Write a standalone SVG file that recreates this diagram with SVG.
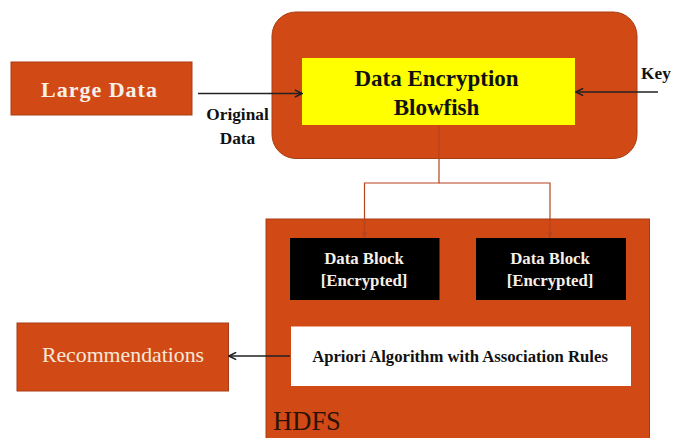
<svg xmlns="http://www.w3.org/2000/svg" width="674" height="438" viewBox="0 0 674 438">
<style>
text{font-family:"Liberation Serif",serif;text-anchor:middle}
.o{fill:#d14a16;stroke:#a83c14;stroke-width:1}
.b{font-weight:bold;fill:#111}
.w{font-weight:bold;fill:#f6f0e8}
.k{fill:#000}
.a{fill:none;stroke:#222;stroke-width:1.6}
.r{fill:none;stroke:#b8421c;stroke-width:1.2}
</style>
<defs>
<marker id="ah" viewBox="0 0 10 10" refX="9" refY="5" markerWidth="9" markerHeight="9" markerUnits="userSpaceOnUse" orient="auto"><path d="M1 1L9 5L1 9" fill="none" stroke="#222" stroke-width="1.8"/></marker>
<marker id="rh" viewBox="0 0 10 10" refX="9" refY="5" markerWidth="7" markerHeight="7" markerUnits="userSpaceOnUse" orient="auto"><path d="M1 1L9 5L1 9Z" fill="#b8421c"/></marker>
</defs>
<rect width="674" height="438" fill="#fff"/>
<g id="large-data"><rect class="o" x="11" y="62" width="181" height="53"/><text class="w" x="99.500" y="97" font-size="22" letter-spacing="1">Large Data</text></g>
<g id="encryption-outer"><rect class="o" x="272" y="12" width="365" height="146.500" rx="24"/></g>
<g id="encryption"><rect x="302" y="58" width="273" height="67" fill="#ff0"/><text class="b" x="436.500" y="85.500" font-size="23">Data Encryption</text><text class="b" x="436.500" y="114.500" font-size="23">Blowfish</text></g>
<g id="hdfs"><rect class="o" x="266" y="219" width="383.500" height="225"/><text x="307" y="430" font-size="26.500" fill="#2a1208">HDFS</text></g>
<g id="block-1"><rect class="k" x="290" y="238" width="149.500" height="62"/><text class="w" x="364" y="264" font-size="16.800">Data Block</text><text class="w" x="364" y="286" font-size="16.800">[Encrypted]</text></g>
<g id="block-2"><rect class="k" x="476" y="238" width="150" height="62"/><text class="w" x="550" y="264" font-size="16.800">Data Block</text><text class="w" x="550" y="286" font-size="16.800">[Encrypted]</text></g>
<g id="apriori"><rect x="291" y="326.500" width="340" height="59.500" fill="#fff"/><text class="b" x="460" y="362" font-size="16.700">Apriori Algorithm with Association Rules</text></g>
<g id="recommendations"><rect class="o" x="17" y="323" width="211.500" height="68"/><text x="123" y="361.500" font-size="21.800" fill="#f6e8d8">Recommendations</text></g>
<g id="connectors">
<path class="a" d="M198 93.500H302" marker-end="url(#ah)"/>
<path class="a" d="M658 92H576" marker-end="url(#ah)"/>
<path class="r" d="M439 125V183H364.500V238" marker-end="url(#rh)"/>
<path class="r" d="M439 183H550V238" marker-end="url(#rh)"/>
<path class="a" d="M290 356H229" style="stroke-width:1.300" marker-end="url(#ah)"/>
</g>
<g id="labels">
<text class="b" x="237.500" y="120" font-size="17.300">Original</text>
<text class="b" x="237.500" y="143.500" font-size="17.300">Data</text>
<text class="b" x="656" y="79" font-size="17.300">Key</text>
</g>
</svg>
